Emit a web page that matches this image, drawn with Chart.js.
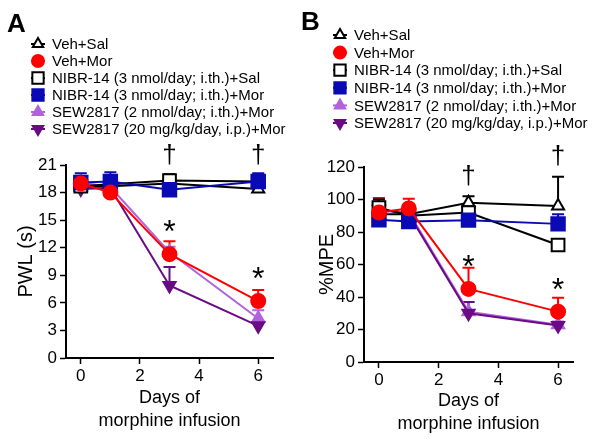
<!DOCTYPE html>
<html>
<head>
<meta charset="utf-8">
<script src="https://cdn.jsdelivr.net/npm/chart.js@4.4.1/dist/chart.umd.min.js"></script>
<style>
  html, body { margin: 0; padding: 0; background: #fff; }
  #wrap { position: relative; width: 600px; height: 443px; }
  canvas { position: absolute; top: 0; }
  #cA { left: 0; }
  #cB { left: 300px; }
</style>
</head>
<body>
<div id="wrap">
  <canvas id="cA" width="300" height="443"></canvas>
  <canvas id="cB" width="300" height="443"></canvas>
</div>
<script>
// x values (days) and tick labels
const days = [0, 1, 3, 6];
const xTicks = [0, 2, 4, 6];

const legendLabels = [
  'Veh+Sal',
  'Veh+Mor',
  'NIBR-14 (3 nmol/day; i.th.)+Sal',
  'NIBR-14 (3 nmol/day; i.th.)+Mor',
  'SEW2817 (2 nmol/day; i.th.)+Mor',
  'SEW2817 (20 mg/kg/day, i.p.)+Mor'
];

// Panel A: PWL (s), mean and upper SEM
const vehSalA = [18.6, 18.7, 19.0, 18.4];
const vehSalErrA = [0.4, 0.4, 0.5, 0.4];
const vehMorA = [19.0, 18.0, 11.3, 6.2];
const vehMorErrA = [0.5, 0.4, 1.4, 1.2];
const nibrSalA = [18.7, 18.9, 19.3, 19.2];
const nibrSalErrA = [0.5, 0.5, 0.7, 0.6];
const nibrMorA = [19.1, 19.2, 18.3, 19.2];
const nibrMorErrA = [1.0, 1.0, 0.5, 0.9];
const sew2A = [19.1, 18.6, 11.5, 4.3];
const sew2ErrA = [0.4, 0.4, 0.6, 0.9];
const sew20A = [18.4, 18.5, 7.9, 3.5];
const sew20ErrA = [0.4, 0.4, 2.0, 0.5];

// Panel B: %MPE, mean and upper SEM
const vehSalB = [91, 91, 98, 96];
const vehSalErrB = [4, 4, 4, 18];
const vehMorB = [92, 94.5, 45, 31];
const vehMorErrB = [9, 6, 13, 8.5];
const nibrSalB = [95, 90, 92, 72];
const nibrSalErrB = [5, 5, 3, 3];
const nibrMorB = [87.5, 86.5, 87.3, 85.0];
const nibrMorErrB = [3, 3, 3, 6];
const sew2B = [93, 92, 31, 23];
const sew2ErrB = [3, 3, 6, 2];
const sew20B = [94, 91, 30, 22.5];
const sew20ErrB = [3, 3, 7, 2];

// significance marks (symbol, day, value)
const markSymsA = ['\u2020', '\u2020', '*', '*'];
const markDaysA = [3, 6, 3, 6];
const markValsA = [22.0, 22.0, 14.3, 9.2];
const markSymsB = ['\u2020', '\u2020', '*', '*'];
const markDaysB = [3, 6, 3, 6];
const markValsB = [114, 126, 62, 48];

const FONT = "'Liberation Sans', Arial, sans-serif";

// marker styles, same order as legendLabels
const styles = [
  { color: '#000000', fill: '#ffffff', pointStyle: 'triangle', radius: 7, rotation: 0, order: 3 },
  { color: '#ff0000', fill: '#ff0000', pointStyle: 'circle', radius: 7, rotation: 0, order: 0 },
  { color: '#000000', fill: '#ffffff', pointStyle: 'rect', radius: 9, rotation: 0, order: 2 },
  { color: '#0a0ab4', fill: '#0a0ab4', pointStyle: 'rect', radius: 9.5, rotation: 0, order: 1 },
  { color: '#b262dc', fill: '#b262dc', pointStyle: 'triangle', radius: 7, rotation: 0, order: 5 },
  { color: '#6a0a84', fill: '#6a0a84', pointStyle: 'triangle', radius: 7, rotation: 180, order: 4 }
];

function makeDatasets(series, errs) {
  return series.map((vals, i) => {
    const s = styles[i];
    return {
      label: legendLabels[i],
      data: days.map((d, j) => ({ x: d, y: vals[j] })),
      errors: errs[i],
      borderColor: s.color,
      backgroundColor: s.fill,
      borderWidth: 2,
      tension: 0,
      pointStyle: s.pointStyle,
      pointRadius: s.radius,
      pointRotation: s.rotation,
      pointBackgroundColor: s.fill,
      pointBorderColor: s.color,
      pointBorderWidth: 2,
      order: s.order
    };
  });
}

function drawMarker(ctx, s, x, y, r) {
  ctx.save();
  ctx.fillStyle = s.fill;
  ctx.strokeStyle = s.color;
  ctx.lineWidth = 2;
  Chart.helpers.drawPoint(ctx, { pointStyle: s.pointStyle, radius: r, rotation: s.rotation, borderWidth: 2 }, x, y);
  ctx.restore();
}

// error bars, panel letter, legend and significance marks
const panelDecor = {
  id: 'panelDecor',
  beforeDatasetsDraw(chart) {
    const ctx = chart.ctx;
    const xs = chart.scales.x, ys = chart.scales.y;
    ctx.save();
    ctx.lineWidth = 2;
    chart.data.datasets.forEach(ds => {
      ctx.strokeStyle = ds.borderColor;
      ds.data.forEach((p, j) => {
        const e = ds.errors[j];
        const x = xs.getPixelForValue(p.x);
        const y0 = ys.getPixelForValue(p.y);
        const y1 = ys.getPixelForValue(p.y + e);
        ctx.beginPath();
        ctx.moveTo(x, y0);
        ctx.lineTo(x, y1);
        ctx.moveTo(x - 6, y1);
        ctx.lineTo(x + 6, y1);
        ctx.stroke();
      });
    });
    ctx.restore();
  },
  afterDraw(chart, args, opts) {
    const ctx = chart.ctx;
    ctx.save();
    ctx.fillStyle = '#000';
    ctx.textBaseline = 'middle';
    ctx.textAlign = 'left';
    ctx.font = 'bold 26px ' + FONT;
    ctx.fillText(opts.letter, opts.letterX, opts.letterY);

    ctx.font = '15px ' + FONT;
    legendLabels.forEach((lab, i) => {
      const y = opts.legY + i * opts.legStep;
      const s = styles[i];
      ctx.save();
      ctx.strokeStyle = s.color;
      ctx.lineWidth = 2;
      ctx.beginPath();
      ctx.moveTo(opts.legX - 7, y);
      ctx.lineTo(opts.legX + 7, y);
      ctx.stroke();
      ctx.restore();
      drawMarker(ctx, s, opts.legX, y, s.pointStyle === 'rect' ? 8 : 6);
      ctx.fillStyle = '#000';
      ctx.fillText(lab, opts.legX + 14, y + 1);
    });

    const xs = chart.scales.x, ys = chart.scales.y;
    ctx.textAlign = 'center';
    opts.syms.forEach((sym, i) => {
      const x = xs.getPixelForValue(opts.mDays[i]);
      const y = ys.getPixelForValue(opts.mVals[i]);
      if (sym === '*') {
        ctx.font = '32px ' + FONT;
        ctx.fillText(sym, x, y + 7);
      } else {
        ctx.font = '26px ' + FONT;
        ctx.fillText(sym, x, y);
      }
    });
    ctx.restore();
  }
};

function makeChart(id, datasets, yMax, yStep, yTitle, layout, decor) {
  return new Chart(document.getElementById(id), {
    type: 'line',
    data: { datasets },
    plugins: [panelDecor],
    options: {
      responsive: false,
      animation: false,
      clip: false,
      layout: { padding: { top: layout.top, right: layout.right, left: 0, bottom: 0 } },
      plugins: {
        legend: { display: false },
        tooltip: { enabled: false },
        panelDecor: decor
      },
      scales: {
        x: {
          type: 'linear',
          min: -0.5,
          max: 6.5,
          afterBuildTicks: s => { s.ticks = xTicks.map(v => ({ value: v })); },
          afterFit: s => { s.height = layout.xHeight; },
          grid: { drawOnChartArea: false, tickLength: 6, tickColor: '#000', tickWidth: 1.5 },
          border: { color: '#000', width: 2 },
          ticks: { color: '#000', font: { family: FONT, size: 17 }, padding: 2 },
          title: {
            display: true,
            text: ['Days of', 'morphine infusion'],
            color: '#000',
            font: { family: FONT, size: 18, lineHeight: 1.3 },
            padding: { top: 0, bottom: layout.xTitlePad }
          }
        },
        y: {
          min: 0,
          max: yMax,
          afterFit: s => { s.width = layout.left; },
          grid: { drawOnChartArea: false, tickLength: 6, tickColor: '#000', tickWidth: 1.5 },
          border: { color: '#000', width: 2 },
          ticks: { stepSize: yStep, color: '#000', font: { family: FONT, size: 17 }, padding: 3 },
          title: {
            display: true,
            text: yTitle,
            color: '#000',
            font: { family: FONT, size: 20 },
            padding: { top: layout.yTitlePad, bottom: 0 }
          }
        }
      }
    }
  });
}

makeChart('cA',
  makeDatasets([vehSalA, vehMorA, nibrSalA, nibrMorA, sew2A, sew20A],
               [vehSalErrA, vehMorErrA, nibrSalErrA, nibrMorErrA, sew2ErrA, sew20ErrA]),
  21, 3, 'PWL (s)',
  { top: 165, right: 27, left: 66, xHeight: 85, xTitlePad: 10, yTitlePad: 14 },
  { letter: 'A', letterX: 7, letterY: 25, legX: 38, legY: 44, legStep: 17,
    syms: markSymsA, mDays: markDaysA, mVals: markValsA });

makeChart('cB',
  makeDatasets([vehSalB, vehMorB, nibrSalB, nibrMorB, sew2B, sew20B],
               [vehSalErrB, vehMorErrB, nibrSalErrB, nibrMorErrB, sew2ErrB, sew20ErrB]),
  120, 20, '%MPE',
  { top: 167, right: 27, left: 64, xHeight: 81, xTitlePad: 7, yTitlePad: 15 },
  { letter: 'B', letterX: 1, letterY: 23, legX: 40, legY: 35, legStep: 17.6,
    syms: markSymsB, mDays: markDaysB, mVals: markValsB });
</script>
</body>
</html>
